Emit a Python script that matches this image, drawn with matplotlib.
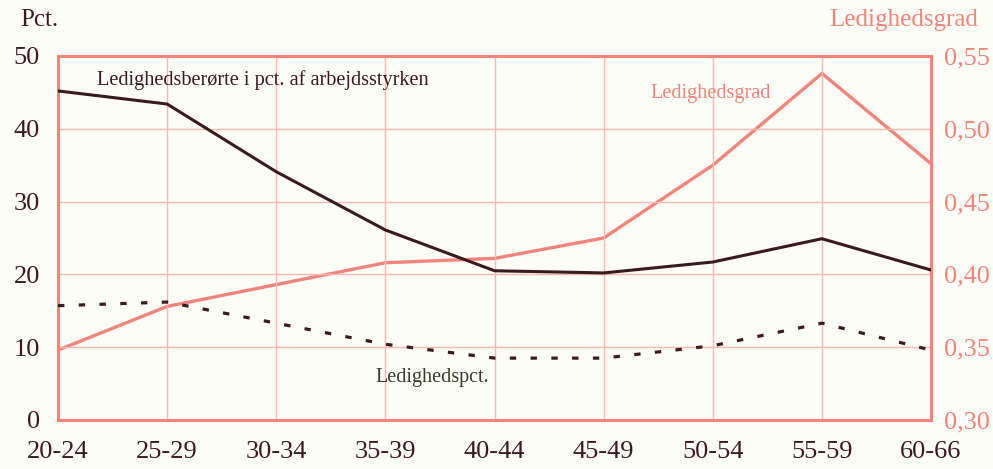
import matplotlib
matplotlib.use("Agg")
import matplotlib.pyplot as plt

categories = ["20-24", "25-29", "30-34", "35-39", "40-44", "45-49", "50-54", "55-59", "60-66"]
berorte = [45.2, 43.4, 34.1, 26.1, 20.5, 20.2, 21.7, 24.9, 20.6]
ledighedspct = [15.7, 16.2, 13.3, 10.4, 8.5, 8.5, 10.2, 13.3, 9.6]
ledighedsgrad = [0.348, 0.378, 0.393, 0.408, 0.411, 0.425, 0.475, 0.538, 0.476]
left_ticks = [0, 10, 20, 30, 40, 50]
right_ticks = [0.30, 0.35, 0.40, 0.45, 0.50, 0.55]
right_labels = ["0,30", "0,35", "0,40", "0,45", "0,50", "0,55"]

plt.rcParams['font.family'] = ['Liberation Serif', 'DejaVu Serif']

bg = "#fdfdf8"
salmon = "#f4837a"
grid_c = "#f9b9b2"
dark = "#3b1a1c"

fig = plt.figure(figsize=(9.93, 4.69), dpi=100, facecolor=bg)
ax = fig.add_axes([0.0584, 0.1045, 0.8792, 0.7761], facecolor=bg)
x = list(range(len(categories)))

ax.set_xlim(0, len(categories) - 1)
ax.set_ylim(0, 50)
ax.set_yticks(left_ticks)
ax.set_xticks(x)
ax.set_xticklabels(categories)
ax.grid(True, color=grid_c, linewidth=1.0)
ax.set_axisbelow(True)
for s in ax.spines.values():
    s.set_color(salmon)
    s.set_linewidth(2.2)
ax.tick_params(axis='both', length=0)
ax.tick_params(axis='y', labelsize=19, labelcolor=dark, pad=13)
ax.tick_params(axis='x', labelsize=19, labelcolor=dark, pad=15)

ax2 = ax.twinx()
ax2.set_ylim(0.30, 0.55)
ax2.set_yticks(right_ticks)
ax2.set_yticklabels(right_labels)
ax2.tick_params(axis='y', length=0, labelsize=19, labelcolor=salmon, pad=9)
for s in ax2.spines.values():
    s.set_visible(False)

ax2.plot(x, ledighedsgrad, color=salmon, linewidth=2.4, solid_joinstyle='miter', zorder=3)
ax.plot(x, berorte, color=dark, linewidth=2.2, zorder=4)
ax.plot(x, ledighedspct, color=dark, linewidth=2.3, linestyle=(0, (2, 4.5)), zorder=4)
ax.set_zorder(ax2.get_zorder() + 1)
ax.patch.set_visible(False)
ax2.patch.set_visible(True)
ax2.patch.set_facecolor(bg)

fig.text(0.020, 0.957, "Pct.", fontsize=18, color=dark, ha='left', va='center')
fig.text(0.985, 0.957, "Ledighedsgrad", fontsize=18, color=salmon, ha='right', va='center')
fig.text(0.098, 0.829, "Ledighedsberørte i pct. af arbejdsstyrken", fontsize=14.6, color=dark, ha='left', va='center')
fig.text(0.655, 0.800, "Ledighedsgrad", fontsize=14.6, color=salmon, ha='left', va='center')
fig.text(0.378, 0.196, "Ledighedspct.", fontsize=14.5, color="#3a3a2a", ha='left', va='center')

fig.savefig("out.png", dpi=100, facecolor=bg)
